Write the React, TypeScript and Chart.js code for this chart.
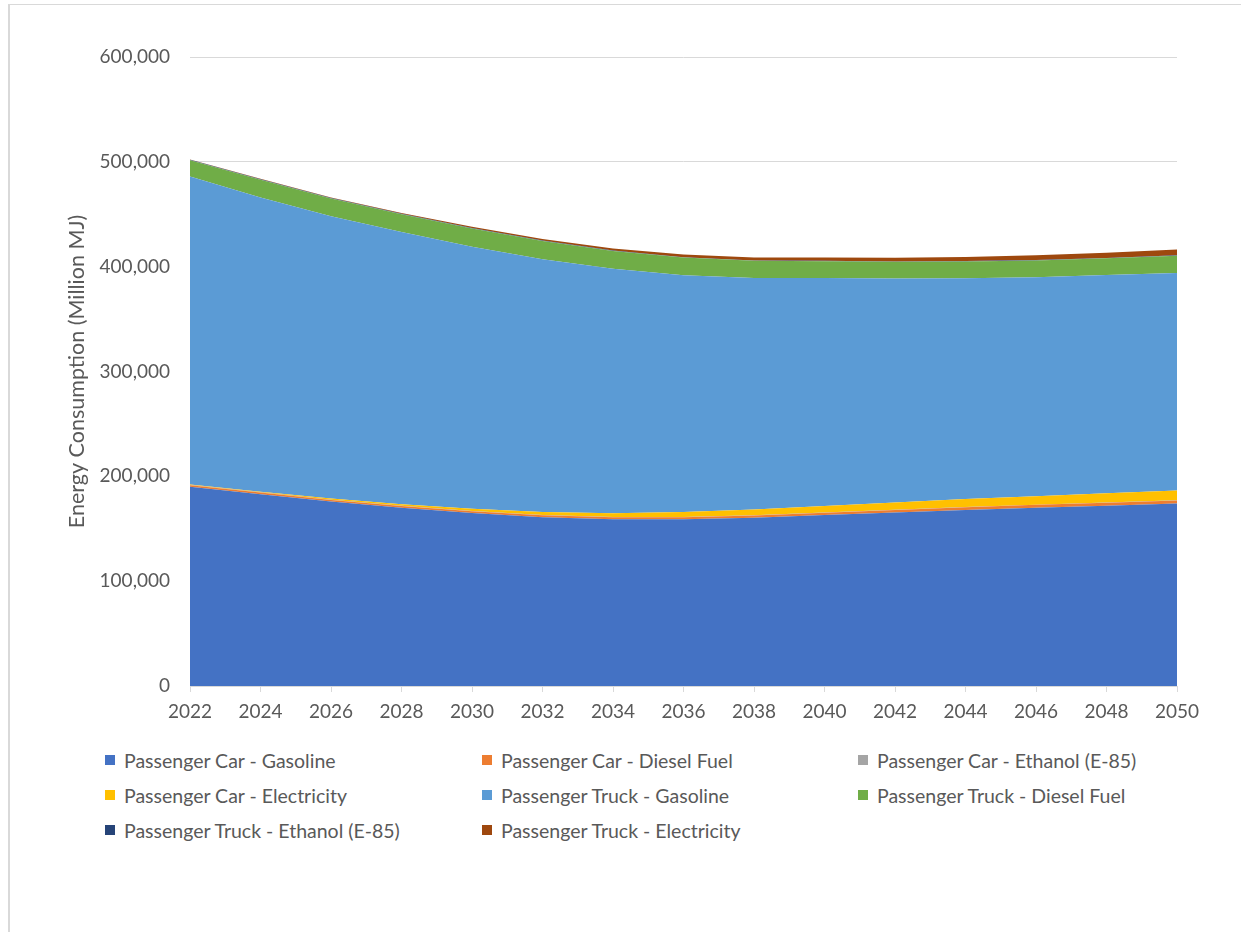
import React, { useEffect, useRef } from "react";
import { Chart, registerables } from "chart.js";

Chart.register(...registerables);

const years = ["2022", "2024", "2026", "2028", "2030", "2032", "2034", "2036", "2038", "2040", "2042", "2044", "2046", "2048", "2050"];

const carGasoline = [190000, 183000, 176000, 170000, 165000, 161000, 159000, 159000, 160500, 163000, 165500, 168000, 170000, 172000, 174000];
const carDiesel = [1500, 1500, 1500, 1600, 1700, 1800, 1900, 2000, 2200, 2300, 2500, 2600, 2800, 2900, 3000];
const carEthanol = [300, 300, 250, 250, 250, 200, 200, 200, 150, 150, 150, 100, 100, 100, 100];
const carElectricity = [300, 600, 1000, 1500, 2200, 3000, 3800, 4700, 5500, 6300, 7000, 7600, 8200, 8800, 9300];
const truckGasoline = [293900, 280600, 269250, 259650, 249850, 241000, 233100, 225800, 220800, 217500, 213500, 210700, 208900, 208200, 207600];
const truckDiesel = [15500, 17000, 17000, 17000, 17500, 17500, 17000, 17000, 16500, 16000, 16000, 16000, 16000, 16000, 16500];
const truckEthanol = [500, 500, 450, 450, 400, 400, 400, 400, 350, 350, 350, 300, 300, 300, 300];
const truckElectricity = [300, 400, 600, 800, 1200, 1600, 2000, 2400, 2800, 3200, 3600, 4000, 4500, 5000, 5500];

const seriesNames = [
  "Passenger Car - Gasoline",
  "Passenger Car - Diesel Fuel",
  "Passenger Car - Ethanol (E-85)",
  "Passenger Car - Electricity",
  "Passenger Truck - Gasoline",
  "Passenger Truck - Diesel Fuel",
  "Passenger Truck - Ethanol (E-85)",
  "Passenger Truck - Electricity",
];
const seriesValues = [carGasoline, carDiesel, carEthanol, carElectricity, truckGasoline, truckDiesel, truckEthanol, truckElectricity];
const seriesColors = ["#4472C4", "#ED7D31", "#A5A5A5", "#FFC000", "#5B9BD5", "#70AD47", "#264478", "#9E480E"];

const FONT = "Lato, 'Noto Sans', sans-serif";
const TEXT = "#595959";
const GRID = "#d9d9d9";

export default function App() {
  const canvasRef = useRef<HTMLCanvasElement | null>(null);

  useEffect(() => {
    if (!canvasRef.current) return;
    const chart = new Chart(canvasRef.current, {
      type: "line",
      data: {
        labels: years,
        datasets: seriesNames.map((name, i) => ({
          label: name,
          data: seriesValues[i],
          backgroundColor: seriesColors[i],
          borderColor: seriesColors[i],
          borderWidth: 0,
          pointRadius: 0,
          tension: 0,
          fill: i === 0 ? "origin" : "-1",
        })),
      },
      options: {
        animation: false,
        responsive: false,
        maintainAspectRatio: false,
        layout: { padding: { top: 57, right: 64, bottom: 0, left: 0 } },
        plugins: { legend: { display: false }, tooltip: { enabled: false } },
        scales: {
          x: {
            type: "category",
            offset: false,
            grid: { drawOnChartArea: false, drawTicks: true, tickLength: 6, color: GRID },
            border: { display: true, color: GRID, width: 1 },
            ticks: { color: TEXT, font: { family: FONT, size: 19 }, padding: 8, maxRotation: 0, autoSkip: false },
            afterFit: (scale: any) => {
              scale.height = 54;
            },
          },
          y: {
            stacked: true,
            min: 0,
            max: 600000,
            ticks: {
              stepSize: 100000,
              color: TEXT,
              font: { family: FONT, size: 19 },
              padding: 20,
              callback: (v: any) => Number(v).toLocaleString("en-US"),
            },
            grid: { color: GRID, drawTicks: false, lineWidth: 1 },
            border: { display: false },
            title: {
              display: true,
              text: "Energy Consumption (Million MJ)",
              color: TEXT,
              font: { family: FONT, size: 21.5, weight: "normal" },
              padding: { top: 64, bottom: 0 },
            },
            afterFit: (scale: any) => {
              scale.width = 190;
            },
          },
        },
      },
    });
    return () => chart.destroy();
  }, []);

  const legendCols = [105, 482, 858];
  const legendRows = [760, 795, 830];

  return (
    <div style={{ position: "absolute", left: 0, top: 0, width: 1241, height: 932, overflow: "hidden", background: "#fff" }}>
      <div
        style={{
          position: "absolute",
          left: 8,
          top: 4,
          width: 1300,
          height: 1000,
          borderTop: `1px solid ${GRID}`,
          borderLeft: `2px solid ${GRID}`,
          boxSizing: "border-box",
        }}
      />
      <canvas ref={canvasRef} width={1241} height={740} style={{ position: "absolute", left: 0, top: 0, width: 1241, height: 740 }} />
      {seriesNames.map((name, i) => {
        const col = i % 3;
        const row = Math.floor(i / 3);
        return (
          <div
            key={name}
            style={{
              position: "absolute",
              left: legendCols[col],
              top: legendRows[row] - 12,
              height: 24,
              display: "flex",
              alignItems: "center",
              fontFamily: FONT,
              fontSize: 19.5,
              color: TEXT,
              whiteSpace: "nowrap",
            }}
          >
            <span style={{ display: "inline-block", width: 10, height: 10, background: seriesColors[i], marginRight: 9 }} />
            <span>{name}</span>
          </div>
        );
      })}
    </div>
  );
}
